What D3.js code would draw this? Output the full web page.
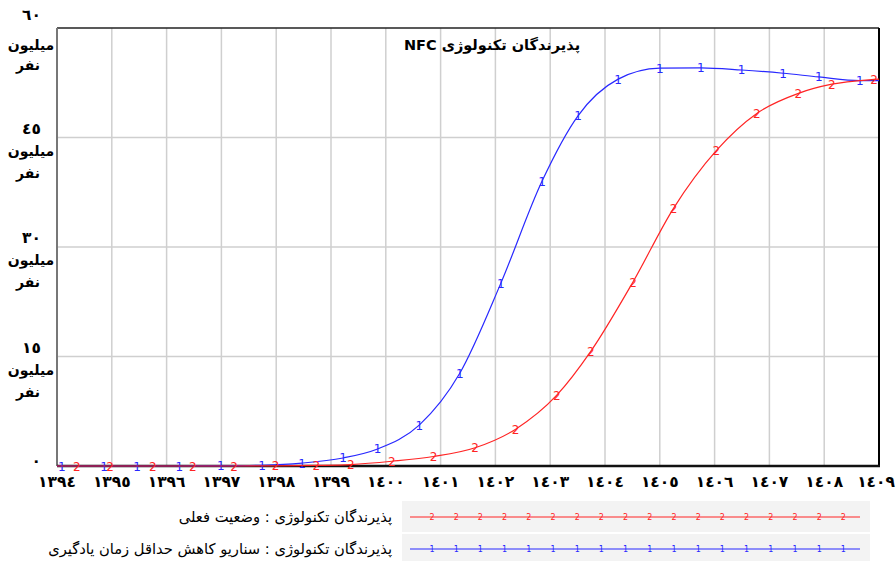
<!DOCTYPE html>
<html>
<head>
<meta charset="utf-8">
<script src="https://cdn.jsdelivr.net/npm/d3@7"></script>
<style>
  html, body { margin: 0; padding: 0; background: #ffffff; }
  svg { display: block; }
  text { font-family: "DejaVu Sans", "Noto Sans", sans-serif; }
</style>
</head>
<body>
<svg id="chart" width="896" height="561"></svg>
<script>
// ---------------- data ----------------
const chartTitle = "پذیرندگان تکنولوژی NFC";
const xTickValues = [1394,1395,1396,1397,1398,1399,1400,1401,1402,1403,1404,1405,1406,1407,1408,1409];
const xTickLabels = ["١٣٩٤","١٣٩٥","١٣٩٦","١٣٩٧","١٣٩٨","١٣٩٩","١٤٠٠","١٤٠١","١٤٠٢","١٤٠٣","١٤٠٤","١٤٠٥","١٤٠٦","١٤٠٧","١٤٠٨","١٤٠٩"];
const yTickValues = [0, 15, 30, 45, 60];
const yTickLabels = ["٠", "١٥", "٣٠", "٤٥", "٦٠"];
const yUnitLines = ["میلیون", "نفر"];

const seriesNames = [
  "پذیرندگان تکنولوژی : وضعیت فعلی",
  "پذیرندگان تکنولوژی : سناریو کاهش حداقل زمان یادگیری"
];
const seriesMarkers = ["2", "1"];

// Series 2 (red): current situation  (years, millions of people)
const currentYears  = [1394, 1394.36, 1394.97, 1395.75, 1396.48, 1397.23, 1397.99, 1398.73, 1399.36, 1400.11, 1400.87, 1401.63, 1402.37, 1403.12, 1403.74, 1404.51, 1405.25, 1406.03, 1406.77, 1407.53, 1408.14, 1408.91, 1409];
const currentValues = [0, 0, 0, 0, 0, 0, 0.02, 0.08, 0.2, 0.65, 1.3, 2.5, 5.05, 9.7, 15.7, 25.2, 35.3, 43.2, 48.3, 51.05, 52.3, 52.95, 53.0];

// Series 1 (blue): scenario - reduced minimum learning time
const scenarioYears  = [1394, 1394.09, 1394.86, 1395.46, 1396.23, 1396.99, 1397.74, 1398.47, 1399.22, 1399.85, 1400.61, 1401.35, 1402.10, 1402.85, 1403.51, 1404.24, 1405.0, 1405.75, 1406.49, 1407.25, 1407.9, 1408.65, 1409];
const scenarioValues = [0, 0, 0, 0, 0, 0.02, 0.1, 0.4, 1.1, 2.33, 5.6, 12.7, 25.05, 39.0, 48.0, 53.0, 54.5, 54.55, 54.25, 53.8, 53.3, 52.8, 52.8];

// ---------------- drawing ----------------
const svg = d3.select("#chart");
const pLeft = 57, pRight = 879, pTop = 28, pBottom = 466;

const x = d3.scaleLinear().domain([1394, 1409]).range([pLeft, pRight]);
const y = d3.scaleLinear().domain([0, 60]).range([pBottom, pTop]);

const redColor = "#ff2424", blueColor = "#2828ff";

// grid
const grid = svg.append("g");
grid.selectAll("line.v").data(xTickValues.slice(1, -1)).enter().append("line")
  .attr("x1", d => x(d)).attr("x2", d => x(d))
  .attr("y1", pTop).attr("y2", pBottom)
  .attr("stroke", "#cfcfcf").attr("stroke-width", 1.5);
grid.selectAll("line.h").data(yTickValues.slice(1, -1)).enter().append("line")
  .attr("x1", pLeft).attr("x2", pRight)
  .attr("y1", d => y(d)).attr("y2", d => y(d))
  .attr("stroke", "#cfcfcf").attr("stroke-width", 1.5);

// title
svg.append("text")
  .attr("x", 492).attr("y", 50)
  .attr("direction", "rtl")
  .attr("text-anchor", "middle")
  .attr("font-weight", "bold")
  .attr("font-size", 14.5)
  .attr("fill", "#000")
  .text(chartTitle);

// frame
svg.append("line").attr("x1", pLeft).attr("x2", pRight).attr("y1", pTop).attr("y2", pTop)
  .attr("stroke", "#222").attr("stroke-width", 1.5);
svg.append("line").attr("x1", pRight).attr("x2", pRight).attr("y1", pTop).attr("y2", pBottom)
  .attr("stroke", "#000").attr("stroke-width", 2);
svg.append("line").attr("x1", pLeft).attr("x2", pLeft).attr("y1", pTop).attr("y2", pBottom)
  .attr("stroke", "#777").attr("stroke-width", 2);
svg.append("line").attr("x1", pLeft).attr("x2", pRight + 1).attr("y1", pBottom).attr("y2", pBottom)
  .attr("stroke", "#111").attr("stroke-width", 2.5);

// series
const lineGen = d3.line().curve(d3.curveMonotoneX).x(d => x(d[0])).y(d => y(d[1]));
const series = [
  { name: seriesNames[1], marker: seriesMarkers[1], color: blueColor, pts: d3.zip(scenarioYears, scenarioValues) },
  { name: seriesNames[0], marker: seriesMarkers[0], color: redColor,  pts: d3.zip(currentYears, currentValues) }
];
series.forEach(s => {
  const g = svg.append("g");
  g.append("path").datum(s.pts)
    .attr("d", lineGen).attr("fill", "none")
    .attr("stroke", s.color).attr("stroke-width", 1.2);
  g.selectAll("text").data(s.pts.slice(1, -1)).enter().append("text")
    .attr("x", d => x(d[0])).attr("y", d => y(d[1]) + 4.5)
    .attr("text-anchor", "middle")
    .attr("font-size", 12)
    .attr("fill", s.color)
    .text(s.marker);
});

// x tick labels (last one kept inside the canvas edge)
const lastTick = xTickValues[xTickValues.length - 1];
svg.append("g").selectAll("text").data(xTickValues).enter().append("text")
  .attr("x", d => d === lastTick ? 895 : x(d)).attr("y", 487)
  .attr("text-anchor", d => d === lastTick ? "end" : "middle")
  .attr("font-weight", "bold").attr("font-size", 15.5)
  .attr("fill", "#000")
  .text((d, i) => xTickLabels[i]);

// y tick labels
const yl = svg.append("g");
yTickValues.forEach((v, i) => {
  const isTop = i === yTickValues.length - 1;
  const base = y(v);
  const numY = isTop ? 20 : (v === 0 ? base : base - 4);
  yl.append("text").attr("x", 41).attr("y", numY)
    .attr("text-anchor", "end").attr("font-weight", "bold").attr("font-size", 15.5)
    .text(yTickLabels[i]);
  if (v !== 0) {
    const u1 = isTop ? 50 : base + 18;
    const u2 = isTop ? 70 : base + 40;
    yl.append("text").attr("x", 31).attr("y", u1).attr("direction", "rtl")
      .attr("text-anchor", "middle").attr("font-weight", "bold").attr("font-size", 14)
      .text(yUnitLines[0]);
    yl.append("text").attr("x", 28).attr("y", u2).attr("direction", "rtl")
      .attr("text-anchor", "middle").attr("font-weight", "bold").attr("font-size", 14)
      .text(yUnitLines[1]);
  }
});

// legend
const legendRows = [
  { name: seriesNames[0], marker: seriesMarkers[0], color: redColor, cy: 517 },
  { name: seriesNames[1], marker: seriesMarkers[1], color: blueColor, cy: 549 }
];
const lg = svg.append("g");
lg.append("rect").attr("x", 402).attr("y", 501).attr("width", 468).attr("height", 31).attr("fill", "#f3f3f3");
lg.append("rect").attr("x", 402).attr("y", 534).attr("width", 468).attr("height", 27).attr("fill", "#f3f3f3");
legendRows.forEach(r => {
  lg.append("text").attr("x", 392).attr("y", r.cy + 5)
    .attr("direction", "rtl").attr("text-anchor", "start")
    .attr("font-size", 14.7).attr("fill", "#000")
    .text(r.name);
  lg.append("line").attr("x1", 410).attr("x2", 860).attr("y1", r.cy).attr("y2", r.cy)
    .attr("stroke", r.color).attr("stroke-width", 1.2);
  lg.selectAll(null).data(d3.range(18)).enter().append("text")
    .attr("x", k => 432 + k * 24.2).attr("y", r.cy + 3)
    .attr("text-anchor", "middle").attr("font-size", 8)
    .attr("fill", r.color).text(r.marker);
});
</script>
</body>
</html>
